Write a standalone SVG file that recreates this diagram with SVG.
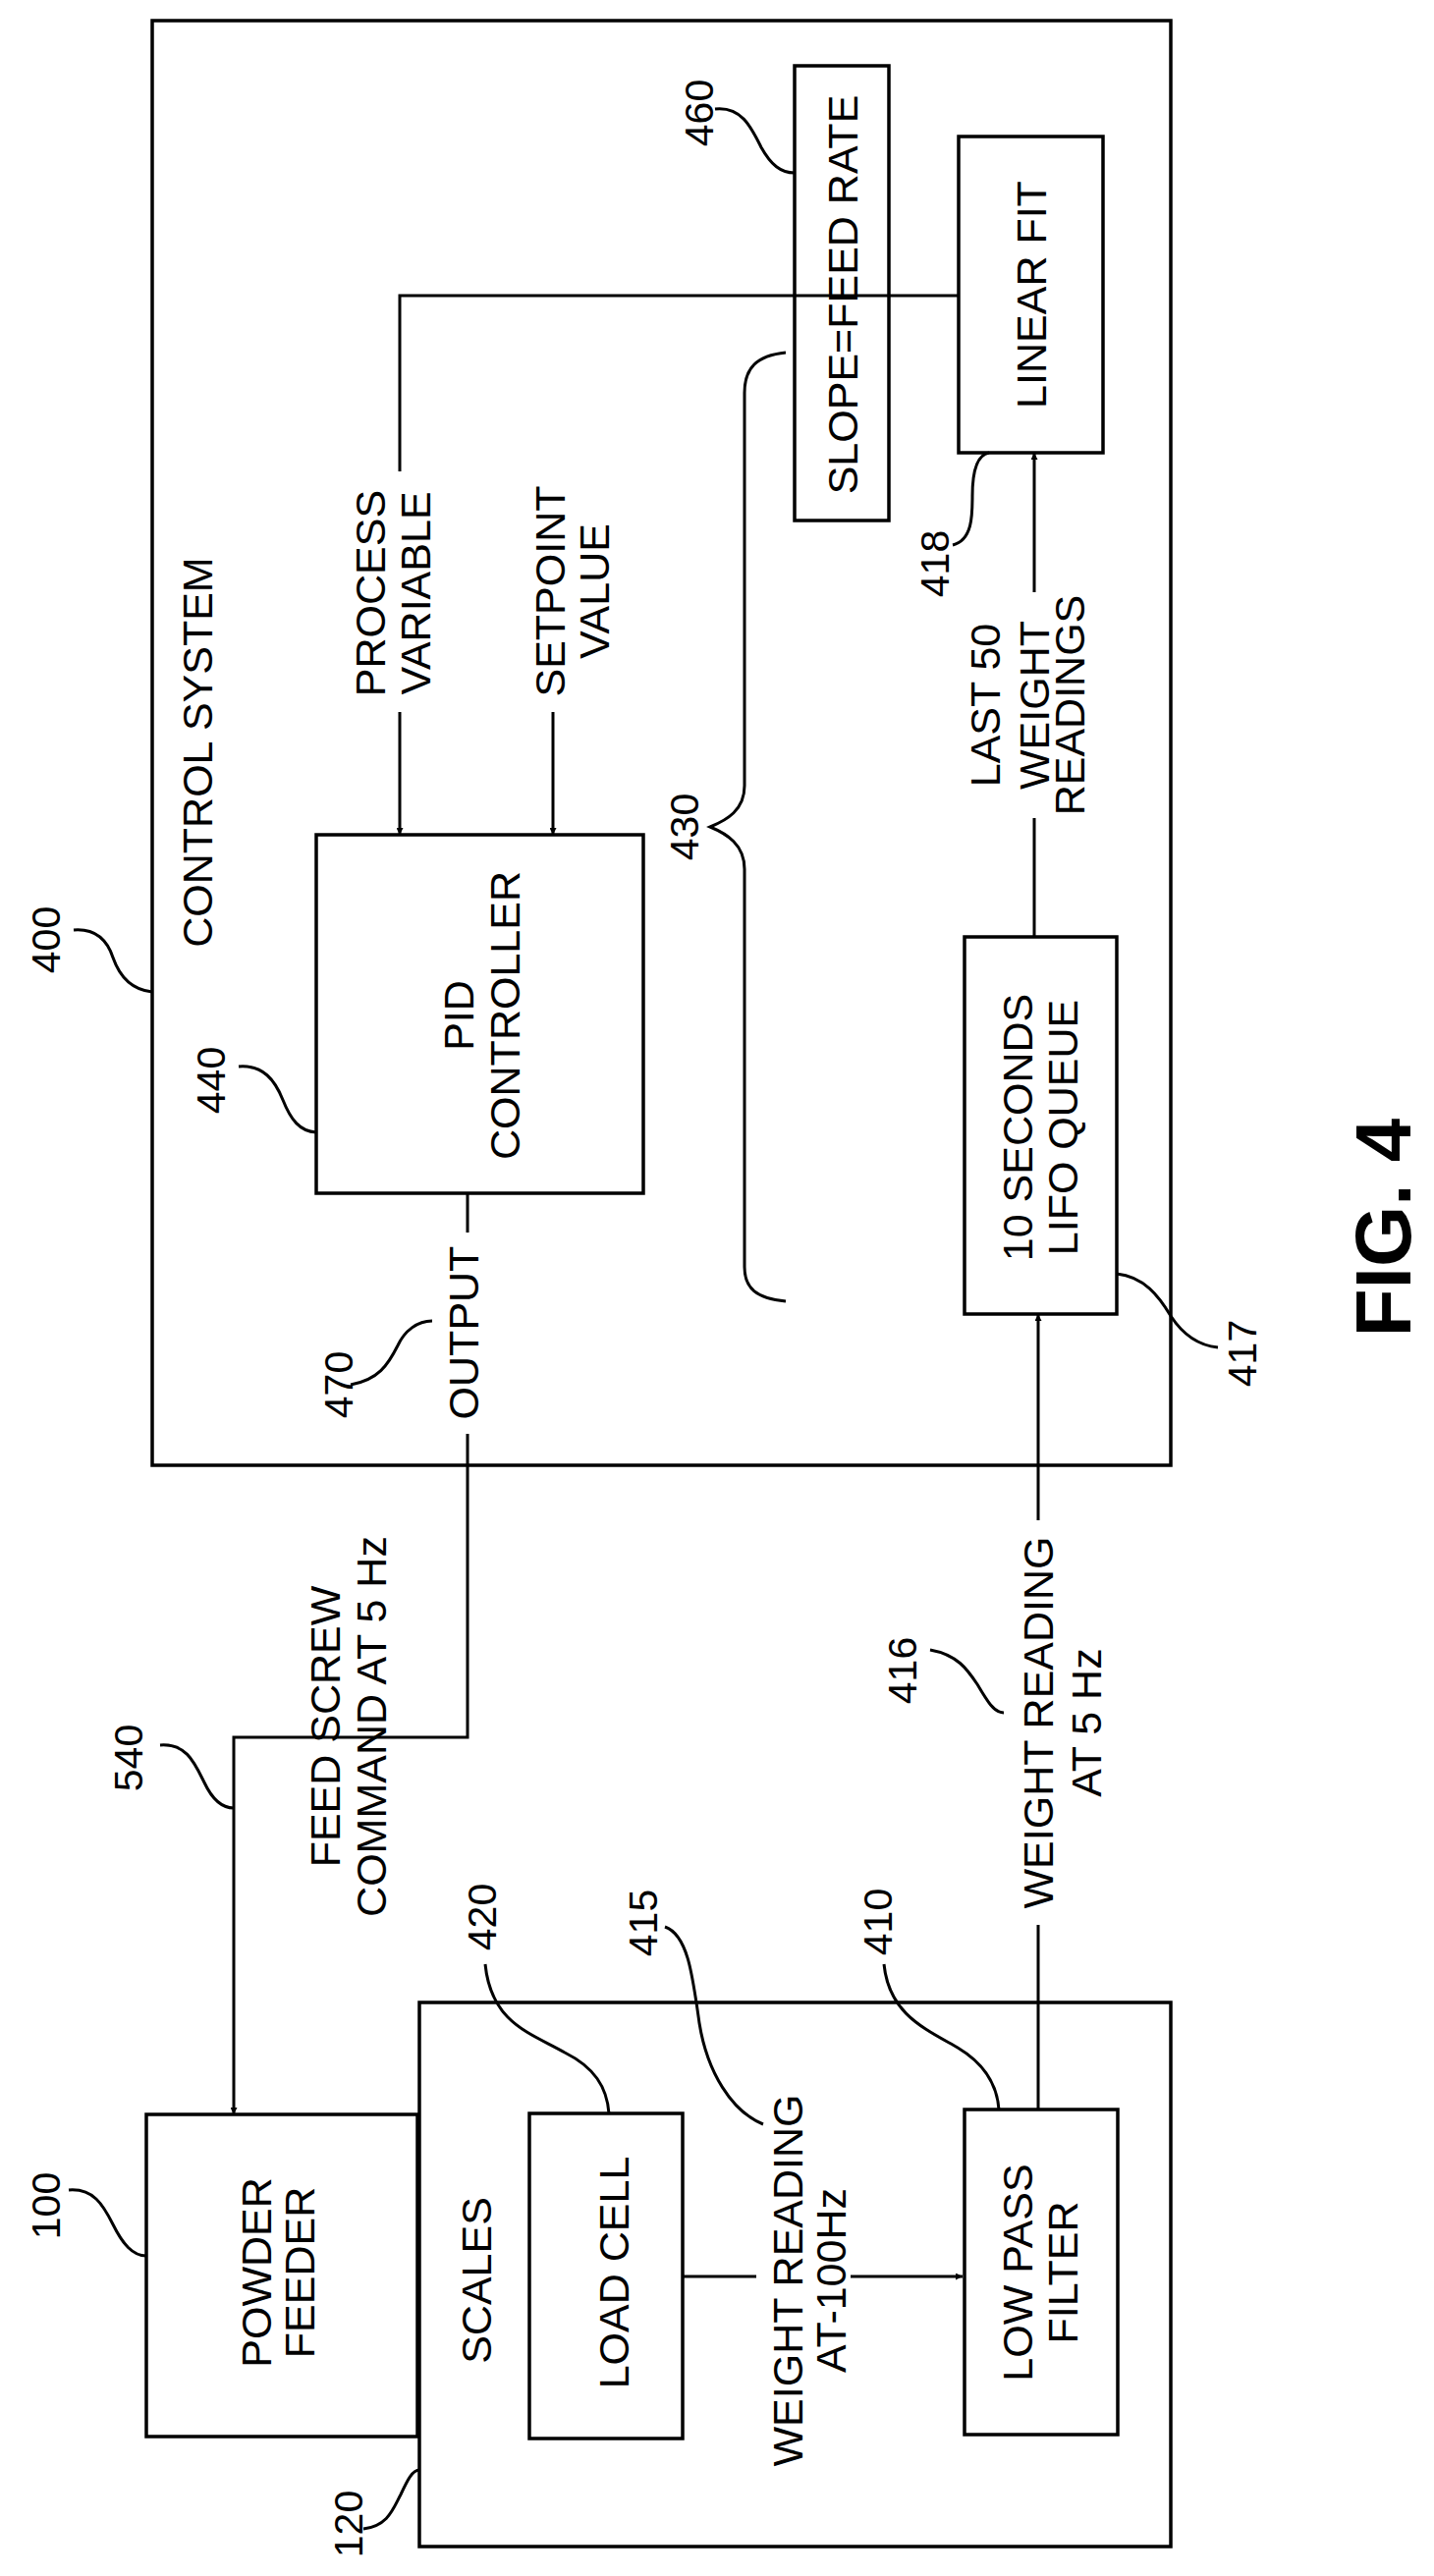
<svg xmlns="http://www.w3.org/2000/svg" width="1460" height="2623" viewBox="0 0 1460 2623">
<style>
.b{fill:#fff;stroke:#000;stroke-width:3.5}
.l{fill:none;stroke:#000;stroke-width:3}
.t{font-family:"Liberation Sans",Arial,sans-serif;font-size:43px;fill:#000;text-anchor:middle;dominant-baseline:central}
.n{font-family:"Liberation Sans",Arial,sans-serif;font-size:41px;fill:#000;text-anchor:middle;dominant-baseline:central}
</style>
<defs>
<marker id="a" viewBox="0 0 10 10" refX="10" refY="5" markerWidth="7" markerHeight="7" markerUnits="userSpaceOnUse" orient="auto"><path d="M0,0L10,5L0,10z" fill="#000"/></marker>
</defs>
<rect width="1460" height="2623" fill="#fff"/>
<g id="n400"><rect class="b" x="155" y="21" width="1037" height="1471"/>
<text class="t" transform="translate(201,766) rotate(-90)">CONTROL SYSTEM</text>
<text class="n" transform="translate(47,957) rotate(-90)">400</text></g>
<g id="n440"><rect class="b" x="322" y="850" width="333" height="365"/>
<text class="t" transform="translate(467,1034) rotate(-90)">PID</text>
<text class="t" transform="translate(514,1034) rotate(-90)">CONTROLLER</text>
<text class="n" transform="translate(215,1100) rotate(-90)">440</text></g>
<g id="n460"><rect class="b" x="809" y="67" width="96" height="463"/>
<text class="t" transform="translate(858,300) rotate(-90)">SLOPE=FEED RATE</text>
<text class="n" transform="translate(712,115) rotate(-90)">460</text></g>
<g id="n418"><rect class="b" x="976" y="139" width="147" height="322"/>
<text class="t" transform="translate(1050,300) rotate(-90)">LINEAR FIT</text>
<text class="n" transform="translate(952,574) rotate(-90)">418</text></g>
<g id="n417"><rect class="b" x="982" y="954" width="155" height="384"/>
<text class="t" transform="translate(1036,1148) rotate(-90)">10 SECONDS</text>
<text class="t" transform="translate(1082,1148) rotate(-90)">LIFO QUEUE</text>
<text class="n" transform="translate(1265,1378) rotate(-90)">417</text></g>
<g id="n100"><rect class="b" x="149" y="2153" width="276" height="328"/>
<text class="t" transform="translate(261,2314) rotate(-90)">POWDER</text>
<text class="t" transform="translate(305,2314) rotate(-90)">FEEDER</text>
<text class="n" transform="translate(47,2246) rotate(-90)">100</text></g>
<g id="n120"><rect class="b" x="427" y="2039" width="765" height="554"/>
<text class="t" transform="translate(485,2322) rotate(-90)">SCALES</text>
<text class="n" transform="translate(355,2570) rotate(-90)">120</text></g>
<g id="n420"><rect class="b" x="539" y="2152" width="156" height="331"/>
<text class="t" transform="translate(625,2314) rotate(-90)">LOAD CELL</text>
<text class="n" transform="translate(491,1952) rotate(-90)">420</text></g>
<g id="n410"><rect class="b" x="982" y="2148" width="156" height="331"/>
<text class="t" transform="translate(1036,2314) rotate(-90)">LOW PASS</text>
<text class="t" transform="translate(1082,2314) rotate(-90)">FILTER</text>
<text class="n" transform="translate(894,1957) rotate(-90)">410</text></g>
<g id="labels">
<text class="t" transform="translate(377,604) rotate(-90)">PROCESS</text>
<text class="t" transform="translate(423,604) rotate(-90)">VARIABLE</text>
<text class="t" transform="translate(560,602) rotate(-90)">SETPOINT</text>
<text class="t" transform="translate(605,602) rotate(-90)">VALUE</text>
<text class="t" transform="translate(1003,718) rotate(-90)">LAST 50</text>
<text class="t" transform="translate(1053,718) rotate(-90)">WEIGHT</text>
<text class="t" transform="translate(1089,718) rotate(-90)">READINGS</text>
<text class="t" transform="translate(472,1357) rotate(-90)">OUTPUT</text>
<text class="n" transform="translate(345,1410) rotate(-90)">470</text>
<text class="n" transform="translate(697,842) rotate(-90)">430</text>
<text class="t" transform="translate(331,1758) rotate(-90)">FEED SCREW</text>
<text class="t" transform="translate(378,1758) rotate(-90)">COMMAND AT 5 Hz</text>
<text class="n" transform="translate(131,1790) rotate(-90)">540</text>
<text class="t" transform="translate(802,2322) rotate(-90)">WEIGHT READING</text>
<text class="t" transform="translate(846,2322) rotate(-90)">AT-100Hz</text>
<text class="n" transform="translate(655,1958) rotate(-90)">415</text>
<text class="t" transform="translate(1057,1754) rotate(-90)">WEIGHT READING</text>
<text class="t" transform="translate(1106,1754) rotate(-90)">AT 5 Hz</text>
<text class="n" transform="translate(919,1701) rotate(-90)">416</text>
<text transform="translate(1408,1250) rotate(-90)" style="font-family:'Liberation Sans',Arial,sans-serif;font-weight:bold;font-size:80px;text-anchor:middle;dominant-baseline:central">FIG. 4</text>
</g>
<g id="connectors">
<path class="l" d="M976,301H407V480M407,725V850" marker-end="url(#a)"/>
<path class="l" d="M563,725V850" marker-end="url(#a)"/>
<path class="l" d="M1053,954V833M1053,603V461" marker-end="url(#a)"/>
<path class="l" d="M476,1215V1255M476,1460V1769H238V2153" marker-end="url(#a)"/>
<path class="l" d="M695,2318H770M866,2318H980" marker-end="url(#a)"/>
<path class="l" d="M1057,2148V1960M1057,1548V1338" marker-end="url(#a)"/>
<path class="l" d="M800,359C770,362 758,375 758,400V800C758,825 740,835 723,842C740,849 758,860 758,885V1290C758,1312 770,1322 800,1325"/>
<path class="l" d="M75,947C100,945 110,960 115,975C122,995 135,1008 155,1010"/>
<path class="l" d="M243,1086C268,1084 280,1100 288,1120C296,1140 305,1152 322,1153"/>
<path class="l" d="M728,111C755,108 765,130 775,150C785,168 795,176 809,176"/>
<path class="l" d="M970,555C990,550 990,525 990,505C990,480 995,463 1007,461"/>
<path class="l" d="M1137,1297C1165,1300 1180,1320 1192,1340C1205,1360 1220,1370 1240,1372"/>
<path class="l" d="M357,1410C385,1405 395,1390 405,1370C412,1355 425,1345 440,1345"/>
<path class="l" d="M163,1777C190,1775 198,1795 208,1815C216,1832 225,1841 238,1841"/>
<path class="l" d="M70,2230C95,2228 105,2245 115,2265C125,2285 135,2297 149,2297"/>
<path class="l" d="M370,2575C395,2572 400,2555 408,2540C415,2525 420,2515 427,2515"/>
<path class="l" d="M494,2000C500,2060 540,2070 575,2090C605,2105 618,2125 620,2152"/>
<path class="l" d="M677,1962C700,1970 705,2010 712,2060C720,2110 745,2150 777,2163"/>
<path class="l" d="M900,2000C905,2050 940,2065 975,2085C1000,2100 1015,2120 1017,2148"/>
<path class="l" d="M947,1680C975,1685 985,1700 995,1715C1005,1732 1012,1744 1022,1744"/>
</g>
</svg>
